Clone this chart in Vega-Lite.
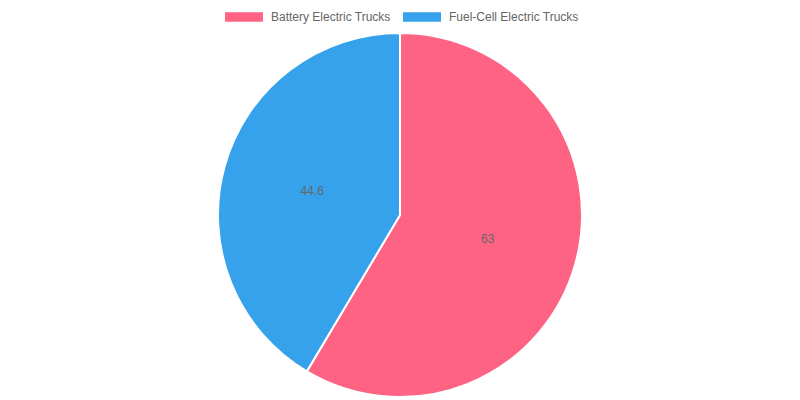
{
  "$schema": "https://vega.github.io/schema/vega-lite/v6.json",
  "width": 800,
  "height": 366,
  "autosize": {"type": "none"},
  "padding": {"top": 32, "left": 0, "right": 0, "bottom": 2},
  "background": "white",
  "data": {"values": [
    {"type": "Battery Electric Trucks", "value": 63},
    {"type": "Fuel-Cell Electric Trucks", "value": 44.6}
  ]},
  "encoding": {
    "theta": {"field": "value", "type": "quantitative", "stack": true},
    "order": {"field": "type", "sort": "ascending"}
  },
  "layer": [
    {
      "mark": {"type": "arc", "outerRadius": 182, "stroke": "white", "strokeWidth": 2},
      "encoding": {
        "color": {
          "field": "type", "type": "nominal",
          "scale": {"domain": ["Battery Electric Trucks", "Fuel-Cell Electric Trucks"], "range": ["#FF6384", "#36A2EB"]},
          "legend": {
            "title": null,
            "orient": "none",
            "direction": "horizontal",
            "legendX": 225,
            "legendY": -34,
            "symbolType": "M-1,-0.25H1V0.25H-1Z",
            "symbolSize": 1444,
            "symbolStrokeWidth": 0,
            "symbolOpacity": 1,
            "labelFont": "Liberation Sans",
            "labelFontSize": 12,
            "labelColor": "#666666",
            "labelOffset": 8,
            "columnPadding": 12,
            "labelLimit": 300
          }
        }
      }
    },
    {
      "mark": {"type": "text", "radius": 91, "font": "Liberation Sans", "fontSize": 12, "color": "#666666"},
      "encoding": {"text": {"field": "value", "type": "quantitative"}}
    }
  ]
}
